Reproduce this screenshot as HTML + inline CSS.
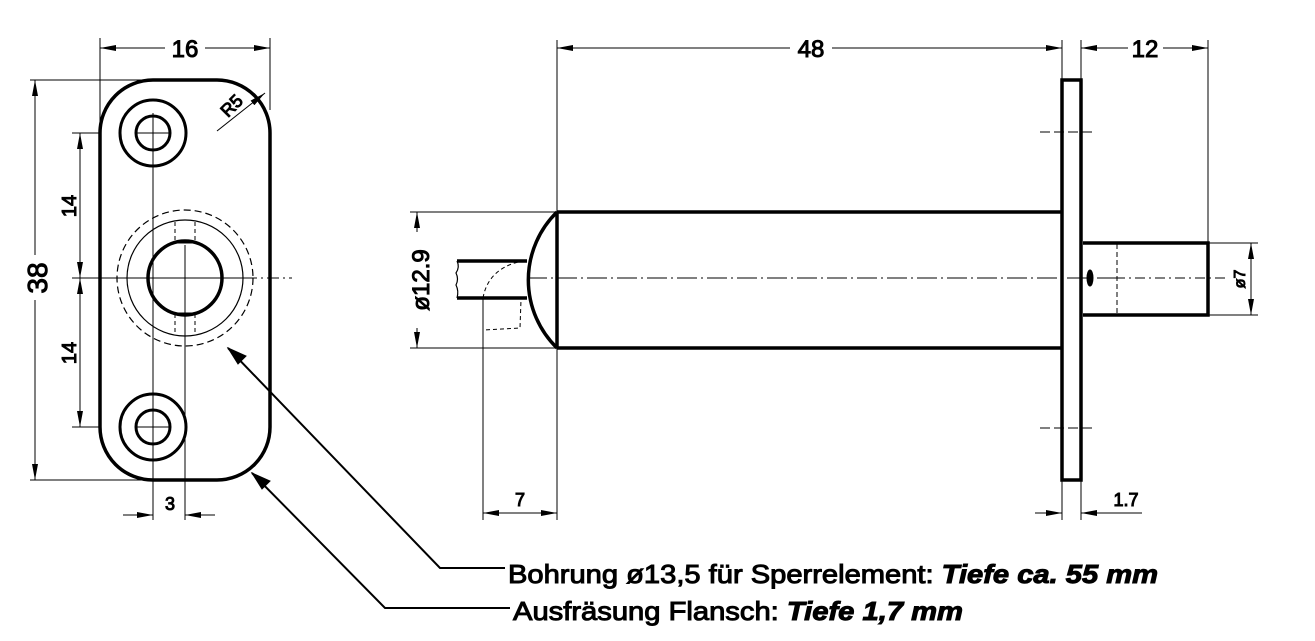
<!DOCTYPE html>
<html><head><meta charset="utf-8"><style>html,body{margin:0;padding:0;background:#fff}svg{display:block}</style></head>
<body>
<svg width="1315" height="641" viewBox="0 0 1315 641" xmlns="http://www.w3.org/2000/svg" font-family="Liberation Sans, sans-serif">
<defs>
<marker id="a" viewBox="0 0 16 6" refX="16" refY="3" markerWidth="16" markerHeight="6" markerUnits="userSpaceOnUse" orient="auto-start-reverse"><path d="M0,0 L16,3 L0,6 Z" fill="#000"/></marker>
</defs>
<g fill="none" stroke="#000">
<rect x="100" y="80" width="170" height="400" rx="53" ry="53" stroke-width="3.5"/>
<circle cx="153" cy="133" r="33" stroke-width="3"/>
<circle cx="153" cy="133" r="17" stroke-width="3"/>
<circle cx="153" cy="427" r="33" stroke-width="3"/>
<circle cx="153" cy="427" r="17" stroke-width="3"/>
<circle cx="185" cy="278" r="37" stroke-width="3.5"/>
<circle cx="185" cy="278" r="58" stroke-width="1.2"/>
<circle cx="185" cy="278" r="68" stroke-width="1.2" stroke-dasharray="7,4"/>
<g stroke-width="1" stroke-dasharray="4,3">
<line x1="175" y1="222" x2="175" y2="242"/><line x1="195" y1="222" x2="195" y2="242"/>
<line x1="175" y1="314" x2="175" y2="335"/><line x1="195" y1="314" x2="195" y2="335"/>
</g>
<line x1="175" y1="242" x2="195" y2="242" stroke-width="3"/>
<line x1="175" y1="314" x2="195" y2="314" stroke-width="3"/>
<g stroke-width="1">
<line x1="72" y1="278" x2="245" y2="278"/>
<line x1="245" y1="278" x2="292" y2="278" stroke-dasharray="12,4,2,4"/>
<line x1="185" y1="245" x2="185" y2="520"/>
<line x1="153" y1="113" x2="153" y2="520"/>
<line x1="136" y1="133" x2="170" y2="133"/>
<line x1="136" y1="427" x2="170" y2="427"/>
<line x1="100" y1="38" x2="100" y2="133"/><line x1="270" y1="38" x2="270" y2="110"/>
<line x1="100" y1="48" x2="165" y2="48" marker-start="url(#a)"/><line x1="205" y1="48" x2="270" y2="48" marker-end="url(#a)"/>
<line x1="30" y1="80" x2="150" y2="80"/><line x1="30" y1="480" x2="150" y2="480"/>
<line x1="35" y1="80" x2="35" y2="255" marker-start="url(#a)"/><line x1="35" y1="300" x2="35" y2="480" marker-end="url(#a)"/>
<line x1="72" y1="133" x2="100" y2="133"/><line x1="72" y1="427" x2="100" y2="427"/>
<line x1="80" y1="133" x2="80" y2="278" marker-start="url(#a)" marker-end="url(#a)"/>
<line x1="80" y1="278" x2="80" y2="427" marker-start="url(#a)" marker-end="url(#a)"/>
<line x1="123" y1="515" x2="153" y2="515" marker-end="url(#a)"/>
<line x1="215" y1="515" x2="185" y2="515" marker-end="url(#a)"/>
<line x1="217" y1="131" x2="265" y2="93" marker-end="url(#a)"/>
<line x1="527" y1="278" x2="1115" y2="278" stroke-dasharray="20,4,2,4"/>
<line x1="1115" y1="278" x2="1225" y2="278" stroke-dasharray="10,4,2,4"/>
<line x1="1040" y1="132" x2="1095" y2="132" stroke-dasharray="10,4"/>
<line x1="1040" y1="428" x2="1095" y2="428" stroke-dasharray="10,4"/>
<line x1="1117" y1="244" x2="1117" y2="315" stroke-dasharray="5,3"/>
<line x1="557" y1="40" x2="557" y2="212"/><line x1="1062" y1="40" x2="1062" y2="80"/>
<line x1="1081" y1="40" x2="1081" y2="80"/><line x1="1208" y1="40" x2="1208" y2="243"/>
<line x1="557" y1="48" x2="790" y2="48" marker-start="url(#a)"/><line x1="832" y1="48" x2="1062" y2="48" marker-end="url(#a)"/>
<line x1="1081" y1="48" x2="1128" y2="48" marker-start="url(#a)"/><line x1="1163" y1="48" x2="1208" y2="48" marker-end="url(#a)"/>
<line x1="410" y1="212" x2="557" y2="212"/><line x1="410" y1="348" x2="557" y2="348"/>
<line x1="417" y1="212" x2="417" y2="232" marker-start="url(#a)"/><line x1="417" y1="328" x2="417" y2="348" marker-end="url(#a)"/>
<line x1="1208" y1="243" x2="1258" y2="243"/><line x1="1208" y1="315" x2="1258" y2="315"/>
<line x1="1251" y1="243" x2="1251" y2="315" marker-start="url(#a)" marker-end="url(#a)"/>
<line x1="483" y1="298" x2="483" y2="520"/><line x1="557" y1="348" x2="557" y2="520"/>
<line x1="483" y1="513" x2="557" y2="513" marker-start="url(#a)" marker-end="url(#a)"/>
<line x1="1062" y1="480" x2="1062" y2="520"/><line x1="1081" y1="480" x2="1081" y2="520"/>
<line x1="1035" y1="513" x2="1062" y2="513" marker-end="url(#a)"/>
<line x1="1142" y1="513" x2="1081" y2="513" marker-end="url(#a)"/>
<path d="M483,298 Q488,270 518,262" stroke-dasharray="4,3"/>
<path d="M483,298 L483,330 L520,328 L521,300" stroke-dasharray="4,3"/>
</g>
<g fill="none" stroke="#000" stroke-width="3.5">
<line x1="557" y1="212" x2="1062" y2="212"/><line x1="557" y1="348" x2="1062" y2="348"/>
<line x1="557" y1="212" x2="557" y2="348"/>
<path d="M557,212 A95,95 0 0 0 557,348"/>
<path d="M457,261 L527,261 M457,298 L527,298"/>
<path d="M457,261 q3,6 -1,12 q3,6 0,12 q3,6 1,13" stroke-width="1.2"/>
<rect x="1062" y="80" width="19" height="400"/>
<path d="M1083,243 L1208,243 L1208,315 L1083,315"/>
</g>
<ellipse cx="1090" cy="278" rx="3" ry="8" fill="#000"/>
<g fill="none" stroke="#000" stroke-width="2">
<polyline points="228,348 440,568 505,568"/>
<polyline points="252,473 385,608 510,608"/>
</g>
<path d="M228,348 l18,8 l-8,8 z" fill="#000"/>
<path d="M252,473 l18,8 l-8,8 z" fill="#000"/>
<g fill="#000" font-size="24">
<text x="185" y="57" text-anchor="middle">16</text>
<text x="811" y="57" text-anchor="middle">48</text>
<text x="1145" y="57" text-anchor="middle">12</text>
<text transform="translate(47,278) rotate(-90)" text-anchor="middle" font-size="28">38</text>
<text transform="translate(76,206) rotate(-90)" text-anchor="middle" font-size="20">14</text>
<text transform="translate(76,353) rotate(-90)" text-anchor="middle" font-size="20">14</text>
<text x="170" y="510" text-anchor="middle" font-size="18">3</text>
<text transform="translate(236,110) rotate(-45)" text-anchor="middle" font-size="18">R5</text>
<text transform="translate(429,280) rotate(-90)" text-anchor="middle" font-size="24">ø12.9</text>
<text transform="translate(1245,279) rotate(-90)" text-anchor="middle" font-size="16">ø7</text>
<text x="520" y="506" text-anchor="middle" font-size="18">7</text>
<text x="1126" y="506" text-anchor="middle" font-size="18">1.7</text>
<text x="508" y="583" font-size="26" textLength="650" lengthAdjust="spacingAndGlyphs">Bohrung ø13,5 für Sperrelement: <tspan font-weight="bold" font-style="italic">Tiefe ca. 55 mm</tspan></text>
<text x="513" y="620" font-size="26" textLength="450" lengthAdjust="spacingAndGlyphs">Ausfräsung Flansch: <tspan font-weight="bold" font-style="italic">Tiefe 1,7 mm</tspan></text>
</g>
</svg>
</body></html>
